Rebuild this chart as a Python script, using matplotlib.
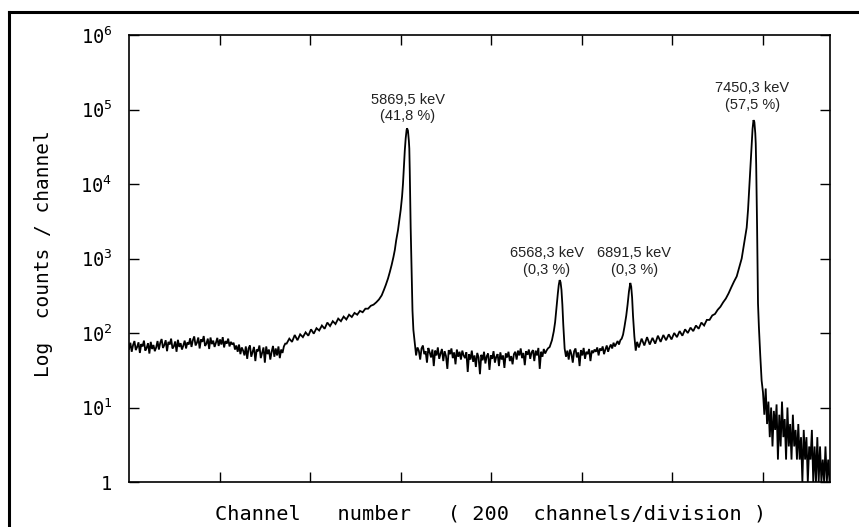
import matplotlib
matplotlib.use("Agg")
import matplotlib.pyplot as plt
from matplotlib.lines import Line2D
import numpy as np

# ---------------- data ----------------
# Noisy stretches are stored as (first channel, channel step, counts);
# peaks are stored with explicit channel numbers.
bg1_start, bg1_step = 0, 3
bg1_counts = [
    61, 74, 56, 69, 78, 59, 65, 75, 54, 71, 66, 79, 58, 63, 73, 53, 76, 61, 69, 57,
    64, 78, 60, 74, 83, 63, 69, 80, 57, 76, 70, 84, 62, 66, 77, 56, 81, 65, 73, 60,
    68, 79, 62, 75,
    70, 85, 65, 80, 90, 68, 74, 87, 62, 82, 76, 91, 67, 72, 84, 61, 87, 71, 79, 65,
    74, 86, 67, 82, 70, 88, 64, 78, 72, 84, 66, 76, 70,
    74, 60, 68, 56, 70, 52, 64, 58,
    50, 66, 45, 62, 68, 48, 56, 65, 42, 60, 57, 68, 46, 54, 64, 40, 66, 52, 60, 44,
    56, 67, 48, 62, 50, 66, 46, 60, 54,
    66, 72,
]
bg2_start, bg2_step = 348, 6
bg2_counts = [
    72, 84, 76, 94, 80, 96, 88, 102, 92, 112, 98, 116, 108, 126, 114, 138, 124, 144,
    132, 156, 144, 166, 152, 176, 164, 186, 176, 198, 190, 212, 212, 232, 240, 258,
    282, 320,
]
peak1_channels = [563, 567, 572, 576, 580, 584, 587, 590, 594, 597, 600, 603, 605,
                  607, 609, 611, 613, 614, 616, 618, 619, 620, 622, 624, 626, 628, 631]
peak1_counts = [380, 440, 540, 660, 820, 1050, 1300, 1750, 2400, 3300, 4500, 6800,
                10000, 17000, 28000, 41000, 53000, 56000, 52000, 38000, 30000, 15000,
                2600, 700, 200, 110, 74]
bg3_start, bg3_step = 634, 3
bg3_counts = [
    50, 64, 58, 44, 62, 68, 52, 57, 40, 63,
    55, 47, 60, 36, 58, 50, 64, 45, 53, 61, 42, 57, 49, 33, 59, 52, 62, 46, 55, 38,
    60, 48, 56, 44, 58, 50,
    46, 55, 30, 52, 44, 58, 41, 50, 35, 54, 47, 28, 51, 43, 56, 39, 49, 53, 32, 50,
    45, 57, 40, 48, 52, 36, 55, 44, 50, 34, 53, 47, 56, 42, 49, 38, 52,
    56, 44, 58, 50, 62, 46, 54, 37, 57, 51, 60, 45, 55, 59, 42, 58, 50, 63, 33, 56,
    48, 61, 53, 58, 62,
]
peak2_channels = [929, 934, 938, 941, 944, 947, 949, 951, 953, 955, 957, 959, 962]
peak2_counts = [65, 80, 105, 140, 220, 340, 440, 513, 480, 380, 240, 130, 62]
bg4_start, bg4_step = 965, 3
bg4_counts = [
    48, 58, 44, 60, 52, 40, 57, 62, 47, 55, 36, 59, 50, 63, 45, 56, 52, 61, 42, 58,
    54, 60,
    56, 64, 50, 62, 58, 66, 52, 60, 68, 56, 64,
    70, 62, 74, 66, 72, 78, 70, 80, 84,
]
peak3_channels = [1091, 1094, 1098, 1101, 1104, 1107, 1109, 1111, 1113, 1116, 1119, 1122]
peak3_counts = [95, 120, 170, 240, 360, 470, 420, 300, 170, 90, 58, 76]
bg5_start, bg5_step = 1126, 6
bg5_counts = [
    64, 84, 68, 88, 70, 86, 72, 92, 76, 94, 80, 96, 82, 100, 88, 106, 92, 112, 100,
    118, 106, 126, 114, 138, 126, 150, 150, 172, 180, 205, 225, 258, 290, 340, 410,
    490, 575,
]
peak4_channels = [1346, 1350, 1353, 1356, 1359, 1362, 1364, 1367, 1369, 1371, 1373,
                  1375, 1377, 1379, 1381, 1383, 1384, 1385, 1386, 1387, 1388, 1389,
                  1391, 1394, 1397]
peak4_counts = [700, 850, 1000, 1300, 1700, 2200, 2600, 4500, 7500, 12600, 22000,
                35000, 55000, 72000, 68000, 48000, 35000, 18000, 7000, 2600, 800, 250,
                120, 50, 23]
tail_start, tail_step = 1400, 3
tail_counts = [
    16, 8, 18, 6, 12, 4, 10, 3, 9, 5, 11, 2, 8,
    3, 12, 4, 7, 2, 10, 3, 6, 2, 8, 3, 5, 2,
    6, 2, 4, 1, 5, 2, 4, 1, 3, 2, 5, 1, 3,
    1, 4, 1, 3, 1, 2, 1, 3, 1, 2, 1,
]

y_tick_values = [1, 10, 100, 1000, 10000, 100000, 1000000]
y_tick_labels = ["1", r"$\mathregular{10^{1}}$", r"$\mathregular{10^{2}}$",
                 r"$\mathregular{10^{3}}$", r"$\mathregular{10^{4}}$",
                 r"$\mathregular{10^{5}}$", r"$\mathregular{10^{6}}$"]
x_tick_values = [200, 400, 600, 800, 1000, 1200, 1400]
x_max = 1548

peak_labels = ["5869,5 keV\n(41,8 %)", "6568,3 keV\n(0,3 %)",
               "6891,5 keV\n(0,3 %)", "7450,3 keV\n(57,5 %)"]
peak_windows = [(560, 640), (930, 970), (1090, 1125), (1340, 1400)]
label_offsets_px = [(1, 5), (-13, 3), (4, 6), (-1, 8)]

# ---------------- assemble spectrum ----------------
def grid(start, step, vals):
    return [start + step * k for k in range(len(vals))]

ch = np.array(grid(bg1_start, bg1_step, bg1_counts) + grid(bg2_start, bg2_step, bg2_counts)
              + peak1_channels + grid(bg3_start, bg3_step, bg3_counts) + peak2_channels
              + grid(bg4_start, bg4_step, bg4_counts) + peak3_channels
              + grid(bg5_start, bg5_step, bg5_counts) + peak4_channels
              + grid(tail_start, tail_step, tail_counts))
ct = np.array(bg1_counts + bg2_counts + peak1_counts + bg3_counts + peak2_counts
              + bg4_counts + peak3_counts + bg5_counts + peak4_counts + tail_counts,
              dtype=float)

# ---------------- figure ----------------
plt.rcParams['font.family'] = ['DejaVu Sans Mono', 'DejaVu Sans']
W, H = 859, 527
fig = plt.figure(figsize=(W / 100, H / 100), dpi=100)
ax = fig.add_axes([129 / W, (H - 482) / H, 701 / W, 447 / H])

ax.plot(ch, ct, color='black', lw=1.3, solid_joinstyle='miter')

ax.set_yscale('log')
ax.set_ylim(1, 1e6)
ax.set_xlim(0, x_max)
ax.set_yticks(y_tick_values)
ax.set_yticklabels(y_tick_labels)
ax.yaxis.set_minor_locator(matplotlib.ticker.NullLocator())
ax.set_xticks(x_tick_values)
ax.set_xticklabels([])
ax.tick_params(axis='both', which='major', direction='in', length=7, width=1.0,
               top=True, right=True, labelsize=13.5, pad=12, colors='black')
for lab in ax.get_yticklabels():
    lab.set_verticalalignment('center_baseline')
for s in ax.spines.values():
    s.set_linewidth(1.2)

ax.set_xlabel("Channel   number   ( 200  channels/division )", fontsize=14.6,
              va='center')
ax.xaxis.set_label_coords(0.516, -0.0716)
ax.set_ylabel("Log  counts / channel", fontsize=14)
ax.yaxis.set_label_coords(-0.108, 0.51)

for text, (lo, hi), (dx, dy) in zip(peak_labels, peak_windows, label_offsets_px):
    m = (ch >= lo) & (ch <= hi)
    i = np.argmax(np.where(m, ct, -1))
    ax.annotate(text, xy=(ch[i], ct[i]), xytext=(dx, dy), textcoords='offset pixels',
                ha='center', va='bottom', fontsize=10.5, linespacing=1.25,
                family=['Liberation Sans', 'DejaVu Sans'], color='#222222')

# outer frame (top and left edges visible in the scan)
fig.add_artist(Line2D([9 / W, 9 / W], [0, 1 - 12 / H], transform=fig.transFigure,
                      color='black', lw=2.2))
fig.add_artist(Line2D([9 / W, 1], [1 - 12 / H, 1 - 12 / H], transform=fig.transFigure,
                      color='black', lw=2.2))

fig.savefig("out.png", dpi=100)
